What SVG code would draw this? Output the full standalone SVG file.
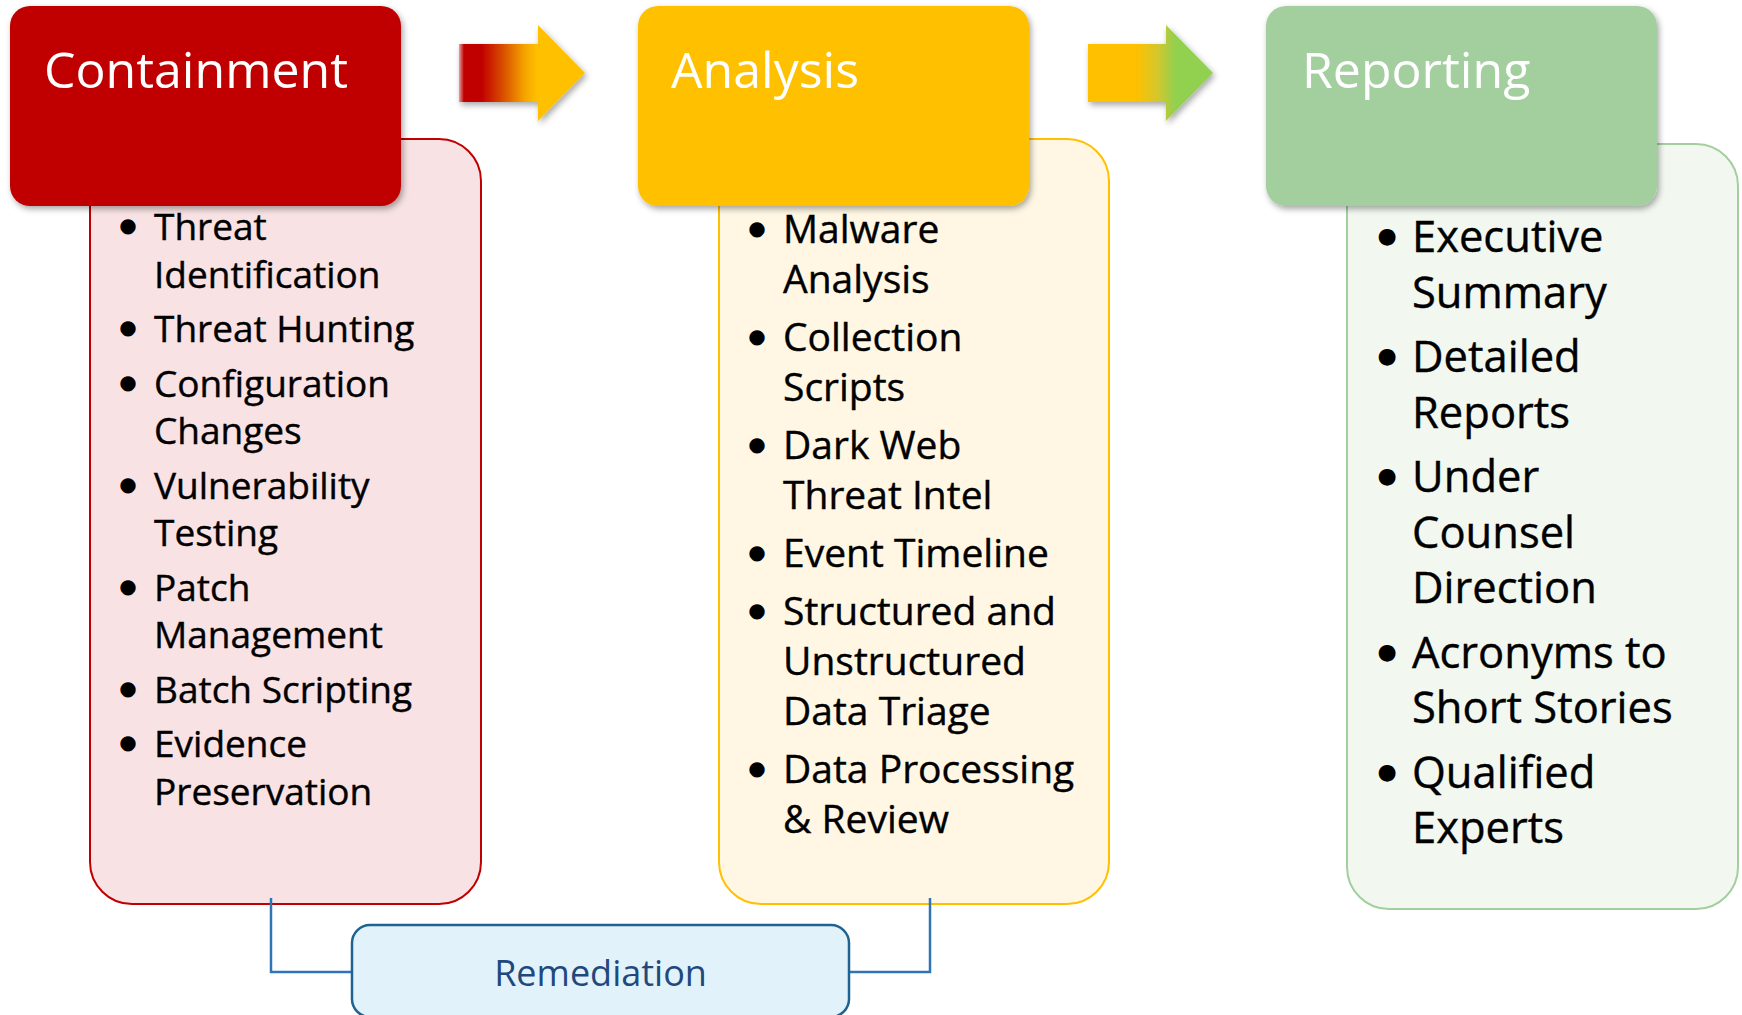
<svg xmlns="http://www.w3.org/2000/svg" width="1742" height="1015" viewBox="0 0 1742 1015">
<defs>
<filter id="shadow" x="-10%" y="-10%" width="125%" height="130%">
<feDropShadow dx="2" dy="3" stdDeviation="3" flood-color="#000" flood-opacity="0.35"/>
</filter>
<linearGradient id="g1" gradientUnits="userSpaceOnUse" x1="459" y1="0" x2="585" y2="0">
<stop offset="0" stop-color="#E8A0A0"/>
<stop offset="0.04" stop-color="#C00000"/>
<stop offset="0.18" stop-color="#C00000"/>
<stop offset="0.34" stop-color="#D84A06"/>
<stop offset="0.52" stop-color="#F5A300"/>
<stop offset="0.62" stop-color="#FFC000"/>
<stop offset="1" stop-color="#FFC000"/>
</linearGradient>
<linearGradient id="g2" gradientUnits="userSpaceOnUse" x1="1088" y1="0" x2="1213" y2="0">
<stop offset="0" stop-color="#FFC000"/>
<stop offset="0.38" stop-color="#FFC000"/>
<stop offset="0.55" stop-color="#D6C72A"/>
<stop offset="0.7" stop-color="#92D050"/>
<stop offset="1" stop-color="#92D050"/>
</linearGradient>
</defs>
<style>
.head{font-family:"Open Sans","Noto Sans","Liberation Sans",sans-serif;font-size:50px;fill:#fff}
.item{font-family:"Open Sans","Noto Sans","Liberation Sans",sans-serif;fill:#000;stroke:#000;stroke-width:0.4}
.bul{font-family:"DejaVu Sans",sans-serif;fill:#000;text-anchor:middle;dominant-baseline:central}
.c .item{font-size:37px}
.c .bul{font-size:20px}
.a .item{font-size:39px}
.a .bul{font-size:20px}
.r .item{font-size:43.5px}
.r .bul{font-size:22px}
.conn{fill:none;stroke:#2E75B6;stroke-width:2.5}
</style>
<rect width="1742" height="1015" fill="#fff"/>

<!-- bodies -->
<g id="containment-body" class="c">
<rect x="90" y="139" width="391" height="765" rx="42" fill="#F8E2E3" stroke="#C00000" stroke-width="2"/>
<text class="bul" x="128" y="225">●</text><text class="item" x="154" y="240">Threat</text>
<text class="item" x="154" y="287.5">Identification</text>
<text class="bul" x="128" y="327">●</text><text class="item" x="154" y="342">Threat Hunting</text>
<text class="bul" x="128" y="381.5">●</text><text class="item" x="154" y="396.5">Configuration</text>
<text class="item" x="154" y="444">Changes</text>
<text class="bul" x="128" y="483.5">●</text><text class="item" x="154" y="498.5">Vulnerability</text>
<text class="item" x="154" y="546">Testing</text>
<text class="bul" x="128" y="585.5">●</text><text class="item" x="154" y="600.5">Patch</text>
<text class="item" x="154" y="648">Management</text>
<text class="bul" x="128" y="687.5">●</text><text class="item" x="154" y="702.5">Batch Scripting</text>
<text class="bul" x="128" y="742">●</text><text class="item" x="154" y="757">Evidence</text>
<text class="item" x="154" y="804.5">Preservation</text>
</g>

<g id="analysis-body" class="a">
<rect x="719" y="139" width="390" height="765" rx="42" fill="#FFF7E4" stroke="#FFC000" stroke-width="2"/>
<text class="bul" x="757" y="228">●</text><text class="item" x="783" y="243">Malware</text>
<text class="item" x="783" y="293">Analysis</text>
<text class="bul" x="757" y="336">●</text><text class="item" x="783" y="351">Collection</text>
<text class="item" x="783" y="401">Scripts</text>
<text class="bul" x="757" y="444">●</text><text class="item" x="783" y="459">Dark Web</text>
<text class="item" x="783" y="509">Threat Intel</text>
<text class="bul" x="757" y="552">●</text><text class="item" x="783" y="567">Event Timeline</text>
<text class="bul" x="757" y="610">●</text><text class="item" x="783" y="625">Structured and</text>
<text class="item" x="783" y="675">Unstructured</text>
<text class="item" x="783" y="725">Data Triage</text>
<text class="bul" x="757" y="768">●</text><text class="item" x="783" y="783">Data Processing</text>
<text class="item" x="783" y="833">&amp; Review</text>
</g>

<g id="reporting-body" class="r">
<rect x="1347" y="144" width="391" height="765" rx="42" fill="#F2F8F0" stroke="#A3CF9F" stroke-width="2"/>
<text class="bul" x="1387" y="235.5">●</text><text class="item" x="1412" y="252">Executive</text>
<text class="item" x="1412" y="307.5">Summary</text>
<text class="bul" x="1387" y="355.5">●</text><text class="item" x="1412" y="372">Detailed</text>
<text class="item" x="1412" y="427.5">Reports</text>
<text class="bul" x="1387" y="475.5">●</text><text class="item" x="1412" y="492">Under</text>
<text class="item" x="1412" y="547.5">Counsel</text>
<text class="item" x="1412" y="603">Direction</text>
<text class="bul" x="1387" y="651">●</text><text class="item" x="1412" y="667.5">Acronyms to</text>
<text class="item" x="1412" y="723">Short Stories</text>
<text class="bul" x="1387" y="771">●</text><text class="item" x="1412" y="787.5">Qualified</text>
<text class="item" x="1412" y="843">Experts</text>
</g>

<!-- headers -->
<g id="containment">
<rect x="10" y="6" width="391" height="200" rx="20" fill="#C00000" filter="url(#shadow)"/>
<text class="head" x="44" y="88">Containment</text>
</g>
<g id="analysis">
<rect x="638" y="6" width="391" height="200" rx="20" fill="#FFC000" filter="url(#shadow)"/>
<text class="head" x="671" y="88">Analysis</text>
</g>
<g id="reporting">
<rect x="1266" y="6" width="391" height="200" rx="20" fill="#A3CF9F" filter="url(#shadow)"/>
<text class="head" x="1302" y="88">Reporting</text>
</g>

<!-- connectors -->
<g id="connectors">
<polygon points="459,44 538,44 538,25 585,73 538,121 538,102 459,102" fill="url(#g1)" filter="url(#shadow)"/>
<polygon points="1088,44 1166,44 1166,25 1213,73 1166,121 1166,102 1088,102" fill="url(#g2)" filter="url(#shadow)"/>
<path class="conn" d="M271,898 V972 H352"/>
<path class="conn" d="M930,898 V972 H849"/>
</g>

<g id="remediation">
<rect x="352" y="925" width="497" height="92" rx="18" fill="#E2F2FB" stroke="#1F6391" stroke-width="2.5"/>
<text x="600.5" y="986" text-anchor="middle" font-family="'Open Sans','Noto Sans','Liberation Sans',sans-serif" font-size="36" fill="#1F497D">Remediation</text>
</g>
</svg>
